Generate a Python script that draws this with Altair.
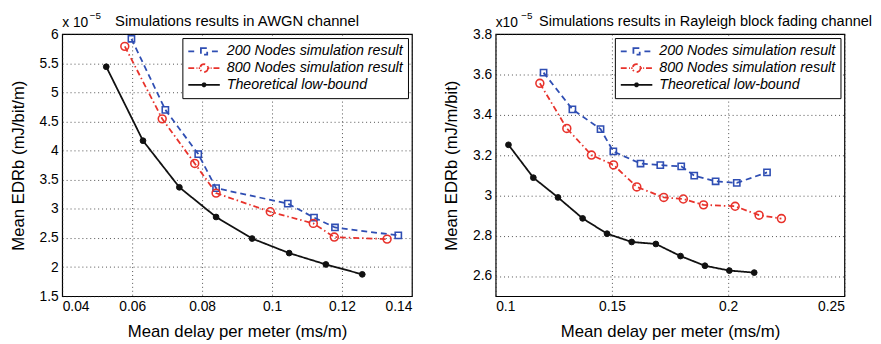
import altair as alt
import pandas as pd

SERIES = ["200 Nodes simulation result", "800 Nodes simulation result", "Theoretical low-bound"]
COLORS = ["#2F4EB3", "#E8322B", "#111111"]

# AWGN channel (values x 1e-5)
awgn_200_x = [0.0598, 0.0695, 0.0789, 0.0840, 0.1045, 0.1120, 0.1180, 0.1361]
awgn_200_y = [5.92, 4.70, 3.94, 3.355, 3.09, 2.85, 2.68, 2.543]
awgn_800_x = [0.0579, 0.0686, 0.0779, 0.0840, 0.0995, 0.1118, 0.1178, 0.1329]
awgn_800_y = [5.79, 4.545, 3.78, 3.27, 2.95, 2.75, 2.515, 2.48]
awgn_th_x = [0.0526, 0.0631, 0.0735, 0.0840, 0.0943, 0.1049, 0.1154, 0.1258]
awgn_th_y = [5.44, 4.17, 3.37, 2.86, 2.49, 2.24, 2.045, 1.875]

# Rayleigh block fading channel (values x 1e-5)
ray_200_x = [0.1206, 0.1330, 0.1451, 0.1506, 0.1623, 0.1708, 0.1798, 0.1854, 0.1946, 0.2037, 0.2167]
ray_200_y = [3.609, 3.427, 3.329, 3.218, 3.158, 3.150, 3.144, 3.098, 3.070, 3.062, 3.114]
ray_800_x = [0.1190, 0.1306, 0.1412, 0.1507, 0.1607, 0.1723, 0.1807, 0.1894, 0.2030, 0.2133, 0.2229]
ray_800_y = [3.556, 3.332, 3.200, 3.151, 3.042, 2.990, 2.982, 2.953, 2.946, 2.902, 2.885]
ray_th_x = [0.1055, 0.1162, 0.1268, 0.1374, 0.1479, 0.1585, 0.1689, 0.1795, 0.1900, 0.2005, 0.2112]
ray_th_y = [3.251, 3.088, 2.990, 2.886, 2.810, 2.769, 2.759, 2.699, 2.651, 2.627, 2.617]

awgn_x_ticks = [0.04, 0.06, 0.08, 0.10, 0.12, 0.14]
awgn_y_ticks = [1.5, 2, 2.5, 3, 3.5, 4, 4.5, 5, 5.5, 6]
ray_x_ticks = [0.10, 0.15, 0.20, 0.25]
ray_y_ticks = [2.6, 2.8, 3.0, 3.2, 3.4, 3.6, 3.8]

FONT = "Liberation Sans"


def frame(xs_list, ys_list):
    rows = []
    for s, xs, ys in zip(SERIES, xs_list, ys_list):
        for i, (x, y) in enumerate(zip(xs, ys)):
            rows.append({"series": s, "delay": x, "edr": y, "i": i})
    return pd.DataFrame(rows)


# legend glyphs: line style + marker, in the [-1, 1] symbol box
P_BLUE = "M-1,0H-0.5 M0.5,0H1 M-0.2,-0.2H0.2V0.2H-0.2Z"
P_RED = ("M-1,0H-0.6 M-0.48,0H-0.42 M-0.34,0H-0.25 M0.25,0H0.34 M0.42,0H0.48 M0.6,0H1 "
         "M0.25,0A0.25,0.25 0 1,1 -0.25,0A0.25,0.25 0 1,1 0.25,0Z")
P_BLACK = ("M-1,0H1 M0.1,0A0.1,0.1 0 1,1 -0.1,0A0.1,0.1 0 1,1 0.1,0Z "
           "M0.05,0A0.05,0.05 0 1,1 -0.05,0A0.05,0.05 0 1,1 0.05,0Z")


def make_legend():
    return alt.Legend(title=None, orient="top-right", offset=4,
                      fillColor="white", strokeColor="black", padding=5,
                      labelFont=FONT, labelFontSize=14.5, labelFontStyle="italic",
                      labelColor="black", symbolSize=1024, clipHeight=17,
                      rowPadding=0, labelOffset=6, labelLimit=400,
                      symbolStrokeWidth=1.8, symbolFillColor="transparent")


def panel(df, xdom, xvals, ydom, yvals, ytitle, title, title_dx, title_size, expo, sup_dx, width):
    x = alt.X("delay:Q", scale=alt.Scale(domain=xdom, nice=False, zero=False),
              axis=alt.Axis(values=xvals, format=".2~f", title="Mean delay per meter (ms/m)"))
    y = alt.Y("edr:Q", scale=alt.Scale(domain=ydom, nice=False, zero=False),
              axis=alt.Axis(values=yvals, format=".2~f", title=ytitle))
    cscale = alt.Scale(domain=SERIES, range=COLORS)
    color = alt.Color("series:N", scale=cscale, legend=make_legend())
    base = alt.Chart(df)
    leg = base.transform_filter("false").mark_point(filled=False, strokeWidth=1.8, opacity=1).encode(
        x=x, y=y, color=color,
        shape=alt.Shape("series:N", scale=alt.Scale(domain=SERIES, range=[P_BLUE, P_RED, P_BLACK]), legend=make_legend()))
    lines = base.mark_line(strokeWidth=1.8).encode(
        x=x, y=y, color=color,
        strokeDash=alt.StrokeDash("series:N", scale=alt.Scale(domain=SERIES, range=[[6, 4], [6, 3, 1.5, 3], [1, 0]]), legend=None),
        order="i:Q")
    p200 = base.transform_filter(alt.datum.series == SERIES[0]).mark_point(
        filled=False, shape="square", size=40, strokeWidth=1.6, opacity=1).encode(x=x, y=y, color=color)
    p800 = base.transform_filter(alt.datum.series == SERIES[1]).mark_point(
        filled=False, shape="circle", size=64, strokeWidth=1.6, opacity=1).encode(x=x, y=y, color=color)
    pth = base.transform_filter(alt.datum.series == SERIES[2]).mark_point(
        filled=False, shape="circle", size=34, fill="#111111", strokeWidth=1, opacity=1).encode(x=x, y=y, color=color)
    ttl = alt.Chart(pd.DataFrame({"t": [title]})).mark_text(
        align="center", baseline="alphabetic", fontSize=title_size, font=FONT, color="black").encode(
        text="t:N", x=alt.value(width / 2 + title_dx), y=alt.value(-8))
    ex = alt.Chart(pd.DataFrame({"t": [expo]})).mark_text(
        align="left", baseline="alphabetic", fontSize=14, font=FONT, color="black").encode(
        text="t:N", x=alt.value(0), y=alt.value(-7))
    sp = alt.Chart(pd.DataFrame({"t": ["\u22125"]})).mark_text(
        align="left", baseline="alphabetic", fontSize=10, font=FONT, color="black").encode(
        text="t:N", x=alt.value(sup_dx), y=alt.value(-15))
    return alt.layer(leg, lines, p200, p800, pth, ttl, ex, sp).properties(width=width, height=266)


left = panel(frame([awgn_200_x, awgn_800_x, awgn_th_x], [awgn_200_y, awgn_800_y, awgn_th_y]),
             [0.04, 0.14], awgn_x_ticks, [1.5, 6], awgn_y_ticks, "Mean EDRb (mJ/bit/m)",
             "Simulations results in AWGN channel", 0, 15, "x 10", 28, 355)
right = panel(frame([ray_200_x, ray_800_x, ray_th_x], [ray_200_y, ray_800_y, ray_th_y]),
              [0.1, 0.25], ray_x_ticks, [2.5, 3.8], ray_y_ticks, "Mean EDRb (mJ/m/bit)",
              "Simulations results in Rayleigh block fading channel", 36, 14.7, "x10", 26, 354)

chart = alt.hconcat(left, right, spacing=29).properties(padding=0).resolve_scale(
    color="independent", shape="independent", strokeDash="independent"
).resolve_legend(
    color="independent", shape="independent"
).configure_view(
    stroke="black", strokeWidth=1.2
).configure_axis(
    labelFont=FONT, titleFont=FONT, labelFontSize=14, titleFontSize=17,
    titleFontWeight="normal", labelColor="black", titleColor="black",
    grid=True, gridColor="#222222", gridDash=[1, 3], gridOpacity=0.8, gridWidth=1,
    ticks=False, domain=False, labelPadding=4
).configure_axisX(titlePadding=10).configure_axisY(titlePadding=12)

chart.save("out.html", embed_options={"renderer": "svg", "actions": False})
